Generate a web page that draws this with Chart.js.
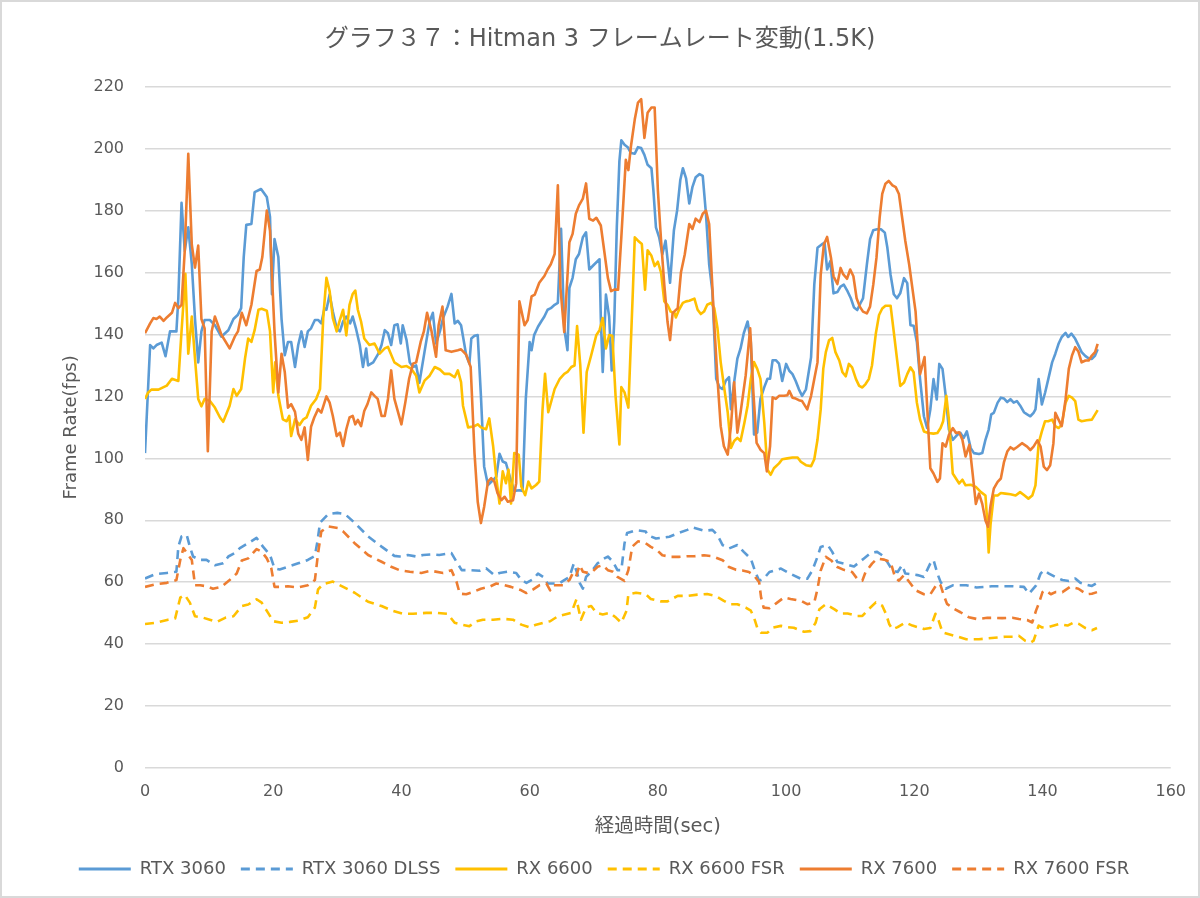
<!DOCTYPE html>
<html><head><meta charset="utf-8">
<script src="https://cdn.jsdelivr.net/npm/chart.js@4.4.1/dist/chart.umd.min.js"></script>
<style>html,body{margin:0;padding:0;background:#fff}canvas{display:block}</style>
</head><body>
<canvas id="c" width="1200" height="898"></canvas>
<script>
const chartTitle = 'グラフ３７：Hitman 3 フレームレート変動(1.5K)';
const xTitle = '経過時間(sec)';
const yTitle = 'Frame Rate(fps)';
const seriesNames = ['RTX 3060','RTX 3060 DLSS','RX 6600','RX 6600 FSR','RX 7600','RX 7600 FSR'];

// [time(sec), fps]
const rtx3060 = [[0,101.7],[0.8,136.6],[1.3,135.5],[1.8,136.6],[2.6,137.4],[3.2,133],[3.9,141],[4.9,141],[5.2,151.8],[5.7,182.5],[6.2,167],[6.75,174.6],[7.3,162.7],[7.8,145],[8.3,131],[8.8,141],[9.3,144.7],[10.1,144.7],[10.9,143],[11.9,139.3],[13,141.4],[13.8,145],[14.5,146.4],[15,148.5],[15.4,165],[15.8,175.4],[16.6,175.7],[17.1,186],[18.1,187],[19,184.4],[19.5,178],[19.8,153],[20.2,170.8],[20.8,165],[21.3,145],[21.8,133.3],[22.3,137.6],[22.8,137.6],[23.4,129.5],[23.9,136.6],[24.4,141],[24.9,136],[25.4,141],[25.9,142],[26.5,144.7],[27,144.7],[27.5,143.6],[28,148.5],[28.3,148],[28.8,152.9],[29.3,147.4],[29.9,142],[30.4,141],[30.9,144.2],[31.4,145.8],[32,143.6],[32.4,145.8],[32.9,142],[33.5,136.6],[34,129.5],[34.5,135.5],[34.8,130],[35.6,131],[36.4,133.8],[36.9,136.6],[37.4,141.4],[37.9,140.4],[38.4,136.6],[38.9,143],[39.4,143.3],[39.9,137.1],[40.2,143],[40.8,138.2],[41.3,131],[41.8,129.5],[42.3,130],[42.8,124.4],[43.6,134.4],[44.4,144.2],[44.9,147],[45.4,137.1],[46,141],[46.5,145.3],[47.2,149],[47.8,153.1],[48.3,143.6],[48.8,144.4],[49.3,143],[49.8,137],[50.1,133.3],[50.6,130.6],[50.9,138.7],[51.4,139.6],[51.9,139.8],[52.4,120.2],[52.9,97.4],[53.5,91.4],[54.3,93],[54.8,94.1],[55.3,101.5],[55.8,99],[56.3,98.5],[56.9,94.1],[57.6,89.5],[58.4,89.7],[58.9,89.5],[59.4,119.2],[60,137.6],[60.3,134.9],[60.7,139.8],[61.3,142.5],[61.8,144.2],[62.3,145.8],[62.8,148],[63.3,148.5],[63.9,149.6],[64.4,150.2],[64.9,174.1],[65.4,142],[65.9,134.9],[66.2,155.1],[66.7,158.3],[67.2,164.3],[67.7,166],[68.3,171.4],[68.8,173],[69.3,161],[70.1,162.7],[70.9,164.3],[71.1,145.3],[71.4,127.9],[71.9,152.9],[72.4,145.8],[72.8,128.4],[73.2,144.2],[73.6,175],[74,196],[74.3,202.7],[74.8,201.3],[75.3,200.5],[75.8,198.6],[76.4,198.4],[76.9,200.5],[77.4,200.2],[77.9,198],[78.4,194.8],[79,193.7],[79.3,186.6],[79.7,174.6],[80.2,171.4],[80.7,165.9],[81.2,170.3],[81.9,156.7],[82.5,173.6],[83,180],[83.5,189.9],[83.9,193.7],[84.4,190.4],[84.9,182.3],[85.4,187.7],[85.9,190.8],[86.5,191.8],[87,191.2],[87.5,179],[88,162.7],[88.5,154],[89.1,125.7],[89.6,123],[90.1,122.4],[90.6,125.1],[91.1,126.2],[91.4,115.9],[91.9,124.6],[92.4,132.2],[92.9,135.5],[93.4,140.4],[94,144.2],[94.5,137.6],[95,107.7],[95.5,108.3],[96,119.2],[96.6,123],[97.1,125.7],[97.5,125.7],[97.9,131.7],[98.4,131.7],[98.9,130.6],[99.4,125],[100,130.5],[100.5,128.3],[101,127.2],[101.5,125],[102,122.3],[102.5,120.2],[103.1,122.3],[103.9,132.7],[104.4,156.1],[104.9,168],[105.7,169.3],[106,169.7],[106.4,161],[106.9,163.7],[107.4,153.3],[108,153.7],[108.5,155.5],[109,156.1],[109.6,153.9],[110.1,151.7],[110.6,148.7],[111.1,147.9],[111.6,150.1],[112,151.7],[112.6,162.6],[113.1,170.8],[113.6,173.7],[114.2,174],[114.8,174],[115.4,172.9],[115.8,168],[116.3,159.3],[116.8,153],[117.3,151.7],[117.8,153.3],[118.4,158.2],[118.9,156.6],[119.4,143],[119.9,142.8],[120.4,137.6],[120.9,125.6],[121.5,113.6],[122,109.8],[122.5,115.8],[123,125.6],[123.5,119],[123.9,130.5],[124.4,128.9],[124.9,120.2],[125.4,109.3],[126,106],[126.7,107.6],[127.2,108.2],[127.7,106.6],[128.2,108.7],[128.8,103.3],[129.3,101.7],[130.1,101.4],[130.6,101.7],[131.1,106],[131.6,109.3],[132,114.2],[132.4,114.7],[133,118],[133.5,119.6],[134,119.3],[134.5,118.2],[135,119.1],[135.5,118],[136,118.5],[136.5,117.1],[137.1,114.9],[137.6,114.2],[138.1,113.6],[138.6,114.7],[138.9,115.8],[139.4,125.6],[139.9,117.4],[140.4,121.2],[140.9,125.6],[141.5,131],[142,133.8],[142.5,137],[143,139.2],[143.6,140.5],[144,139.2],[144.5,140.3],[145.1,138.6],[145.6,136.5],[146.1,134.3],[146.7,133],[147.2,132.3],[147.7,132.1],[148.2,133.2],[148.6,135.2]];

const rtx3060Dlss = [[0,61.2],[1.6,62.6],[3.4,63],[4.9,63.4],[5.2,71.5],[5.7,74.8],[6.5,75.3],[7,71.5],[7.5,68.3],[8.6,67.2],[9.6,67.2],[10.9,65.5],[12.2,66.1],[13,68.3],[14,69.4],[14.8,71],[16.1,72.6],[17.4,74.3],[18.4,71.5],[19.5,68.8],[20.2,64.5],[21,64.1],[22.3,65],[23.9,66.1],[25.4,67.2],[26.5,68.5],[26.9,73.2],[27.3,79.2],[28.6,82],[30,82.4],[31.2,82],[32.7,79.2],[34.8,74.8],[36.9,71.5],[38.9,68.5],[39.7,68.3],[41,68.8],[42.3,68.3],[43.4,68.8],[44.9,69],[45.9,68.8],[47.8,69.4],[48.6,66.6],[49.4,63.9],[50.6,63.9],[52.2,63.7],[53.2,64.5],[54.5,62.3],[55.3,63],[56.6,63.4],[57.9,63],[58.7,60.7],[59.5,59.8],[60.5,60.9],[61.3,62.8],[62.1,61.7],[62.8,59.6],[63.9,59.6],[64.6,59.6],[65.4,60.7],[66.2,61.7],[66.9,66.1],[67.4,63],[67.8,59.8],[68.3,57.9],[68.8,61.7],[69.8,63.9],[70.6,66.1],[71.4,67.4],[72.2,68.3],[73,66.6],[73.7,63.9],[74.3,63.9],[74.8,72.6],[75.2,75.9],[76.6,76.8],[78.1,76.4],[78.4,75.2],[79.7,74.1],[81.8,74.7],[83.1,75.8],[84.6,76.9],[85.4,77.7],[87.2,76.6],[88.5,76.9],[89.3,75.2],[90.1,72],[91.1,70.9],[92.4,72],[93.4,69.8],[94.5,67.6],[95.2,63.3],[95.8,60.5],[96.5,61.1],[97.4,63.3],[99.2,64.4],[100.7,62.7],[102.3,61.1],[103.3,61.1],[104.1,63.8],[104.9,68.2],[105.4,71.4],[106.5,72],[107.2,69.8],[108,66.5],[109,66],[110.6,65.1],[112.1,67.6],[113.2,69.5],[114.2,69.8],[115,68.7],[115.8,66.5],[116.6,63.8],[117.4,63.3],[118.1,65.5],[118.6,62.8],[120.5,62.3],[121.5,61.7],[122.5,66.1],[123,67.2],[123.6,62.8],[124.1,60.1],[124.9,57.9],[126,59],[128.1,59],[129.7,58.3],[131.1,58.5],[132.1,58.7],[133.7,58.7],[135.3,58.7],[137.1,58.5],[137.9,56.3],[139,59],[139.7,62.8],[140.2,63.9],[141,62.8],[142,61.7],[143.1,60.7],[144.1,60.4],[145.1,61.2],[145.9,59.8],[146.7,59.3],[147.7,58.8],[148.5,59.8]];

const rx6600 = [[0,119.2],[0.5,121.3],[1,122.2],[2.1,122.2],[2.9,123],[3.4,123.5],[4.2,125.7],[5.2,125],[5.7,141],[6.3,159.6],[6.75,133.8],[7.3,145.8],[7.8,132.2],[8.3,119.2],[8.8,116.8],[9.3,119.2],[10.1,118.6],[10.9,116.4],[11.7,113.2],[12.2,111.8],[13.2,117],[13.8,122.4],[14.3,120.2],[15,122.4],[15.6,132.2],[16.1,138.7],[16.6,137.6],[17.1,141.4],[17.7,148],[18.2,148.3],[19,147.7],[19.5,141],[20,121.3],[20.3,131],[20.8,120.2],[21.5,112.6],[22.1,112],[22.5,113.7],[22.8,107.2],[23.4,112.6],[24.1,110.8],[24.7,112.6],[25.2,113.2],[25.9,117],[26.7,119.2],[27.3,122.4],[27.8,145.3],[28.3,158.3],[28.8,154],[29.3,145.3],[29.9,141],[30.4,144.7],[30.9,148],[31.4,139.7],[31.9,149.6],[32.4,153.1],[32.8,154.2],[33.2,148],[33.7,144.2],[34.2,138.7],[35,136.6],[35.8,137.1],[36.6,133.8],[37.4,135.5],[37.9,136],[38.9,131],[40,129.5],[40.8,129.8],[41.5,129],[42.3,126.7],[42.8,121.3],[43.6,125.1],[44.4,126.7],[45.2,129.5],[46,128.7],[46.7,127.3],[47.5,127.3],[48.3,126.2],[48.8,128.4],[49.3,124.6],[49.6,117],[50.4,110],[51.4,110.4],[51.9,111],[52.4,110],[53.2,109.4],[53.7,112.9],[54.3,104],[54.8,93.6],[55.3,85.4],[55.8,95.8],[56.3,92],[56.7,96.4],[57.1,85.4],[57.6,101.7],[58.3,101.2],[58.7,90.9],[59.3,88.1],[59.8,92.5],[60.3,90.3],[61,91.4],[61.5,92.5],[62,115.4],[62.4,127.3],[62.9,114.9],[63.4,118.6],[63.9,122.4],[64.7,125.7],[65.4,127.3],[65.9,127.9],[66.5,129.5],[67,130],[67.4,142.7],[67.9,130],[68.4,108.3],[68.9,127.9],[69.6,133.3],[70.4,139.8],[70.9,141.4],[71.4,145.3],[71.9,135.5],[72.4,139.8],[72.9,139.6],[73.4,120.2],[74,104.5],[74.3,123],[74.8,121.3],[75.4,116.4],[76.1,154],[76.4,171.4],[76.9,170.3],[77.5,169.2],[78,154.5],[78.4,167.2],[79,165.4],[79.5,162.1],[80,163.5],[80.5,160],[81,150.7],[81.5,149.6],[82,147.4],[82.6,146.9],[82.8,145.5],[83.3,148],[83.9,150.2],[84.4,150.7],[84.9,150.9],[85.7,151.6],[86.2,148],[86.7,146.6],[87.2,147.4],[87.7,149.6],[88.3,150.2],[88.8,148.5],[89.3,142],[89.8,131.1],[90.3,123.5],[90.9,114.8],[91.4,103.4],[91.9,105.6],[92.4,106.6],[92.9,105.6],[93.5,111.5],[94,117],[94.5,125.7],[95,131.1],[95.5,128.9],[96,125.7],[96.6,111.5],[97.1,96.3],[97.6,94.7],[98.1,96.8],[98.9,98.4],[99.4,99.7],[100.2,100],[101,100.3],[101.8,100.3],[102.3,98.9],[103.1,97.8],[103.9,97.5],[104.4,99.7],[104.9,106],[105.4,115.8],[105.8,128.9],[106.2,134.3],[106.7,138.1],[107.2,138.9],[107.7,134.3],[108.3,131.6],[108.8,127.8],[109.3,126.5],[109.8,130.5],[110.3,129.4],[110.9,125.6],[111.4,123.4],[111.9,122.9],[112.4,124],[112.9,125.6],[113.4,130],[114,140.3],[114.5,146.3],[115,148.4],[115.5,149.3],[116.3,149.3],[116.8,140.8],[117.3,132.1],[117.8,123.4],[118.4,124.5],[118.9,127.2],[119.4,129.4],[119.9,127.8],[120.4,118],[120.9,112.5],[121.5,108.7],[122.2,108.2],[123,108],[123.6,108.2],[124.1,109.8],[124.5,112],[125,120.2],[125.4,112.5],[126,95.1],[126.5,93.5],[127,91.9],[127.5,93.1],[128,91.3],[128.8,91.5],[129.6,90.8],[130.4,89.1],[131.1,88],[131.4,78.8],[131.6,69.6],[131.9,78.8],[132.4,88],[133,88],[133.5,88.8],[134.2,88.6],[135,88.4],[135.8,88],[136.5,89.1],[137.2,88],[137.8,87],[138.4,88],[138.9,91.3],[139.4,104.9],[139.9,108.7],[140.4,112],[140.9,112],[141.5,112.5],[142,110.4],[142.5,109.8],[143,110.9],[143.6,118],[144.1,120.2],[144.6,119.6],[145.1,118.5],[145.6,112.5],[146.1,112],[146.9,112.3],[147.7,112.5],[148.2,114.2],[148.6,115.6]];

const rx6600Fsr = [[0,46.5],[1.6,46.9],[3.6,47.9],[4.7,48.3],[5.5,55],[6.2,55.9],[7,53.4],[7.8,49],[8.8,48.7],[10.1,47.9],[11.2,47.2],[12.5,48.5],[13.8,49],[15.1,52.3],[16.1,52.8],[17.4,54.5],[18.2,53.4],[19.2,50.1],[20,47.4],[21.3,46.9],[22.6,47.2],[23.9,47.6],[25.4,48.7],[26.5,51.8],[27,57.7],[27.8,59.4],[29.3,60.2],[30.6,58.8],[32.7,56.6],[34.8,53.7],[36.9,52.3],[38.7,50.7],[40.2,49.8],[41.8,49.8],[43.9,50.1],[45.4,50.1],[47.2,49.8],[48.3,46.9],[49.4,46.3],[50.6,45.8],[51.7,47.4],[52.7,47.9],[54.3,47.9],[55.8,48.2],[57.4,47.9],[58.7,46.3],[60,45.4],[61,46.3],[62.1,46.9],[63.2,47.4],[64.4,49],[65.5,49.6],[66.5,50.1],[67.3,54.5],[68,47.9],[68.8,51.8],[69.6,52.3],[70.4,50.1],[71.4,49.6],[72.5,50.1],[73.5,48.5],[74.3,46.9],[75.1,50.7],[75.4,56.1],[76.6,56.6],[78.1,56.1],[78.9,54.6],[80.5,53.8],[81.5,53.8],[83.1,55.6],[84.6,55.6],[86.2,56],[87.7,56.2],[89,55.6],[90.3,54],[91.3,52.9],[92.4,52.9],[93.7,51.8],[94.5,50.8],[95,48.6],[95.5,45.3],[96.1,43.7],[97.1,43.7],[97.9,45.3],[99.2,45.9],[100.2,45.5],[101.2,45.3],[102.8,44],[103.8,44.2],[104.6,46.9],[105.2,51.3],[106.2,52.9],[107.5,51.3],[108.5,49.9],[109.6,49.9],[111.1,49.1],[111.9,49.1],[112.9,51.3],[114,53.5],[115,52.4],[115.6,49.7],[116.1,46.4],[116.6,44.8],[117.4,45.5],[118.6,47],[119.7,46],[121.5,44.9],[122.5,45.2],[123.3,49.8],[123.8,47.6],[124.4,43.8],[125.4,43.2],[126.8,42.4],[128.1,41.6],[130.1,41.6],[131.1,41.8],[133.2,42.2],[134.2,42.4],[135.5,42.4],[136.3,42.7],[137.3,41.1],[138.1,40.5],[138.6,41.1],[139.4,46],[139.9,45.4],[141,45.6],[142.6,46.5],[143.9,46],[144.9,47],[145.7,46.5],[146.7,45.2],[147.7,44.5],[148.5,45.2]];

const rx7600 = [[0,140.4],[0.8,143.6],[1.3,145.3],[1.8,145],[2.3,145.8],[2.9,144.4],[3.4,145.5],[4.2,147],[4.7,150.2],[5.2,148.5],[5.7,149.6],[6.2,167],[6.75,198.4],[7.3,169],[7.8,161.6],[8.3,168.7],[8.8,145],[9.3,142],[9.8,102.3],[10.4,141],[10.9,145.8],[11.9,140],[13.2,135.5],[14,139.3],[14.5,141],[15.1,147],[15.8,143],[16.6,149.6],[17.4,160.5],[17.9,161],[18.3,165],[19,180],[19.5,173.5],[20.2,141],[20.8,121.3],[21.3,133.8],[21.8,127.9],[22.3,116.4],[22.8,117.5],[23.4,115],[23.9,108],[24.4,106],[24.9,110],[25.4,99.5],[25.9,110.2],[26.4,113.2],[27,115.9],[27.5,114.8],[28.3,120],[28.8,118],[29.3,113.7],[29.9,107.2],[30.4,108.3],[30.9,104],[31.4,109.4],[31.9,113.2],[32.4,113.7],[32.8,111],[33.2,112.4],[33.7,110.4],[34.2,115.3],[34.7,117.5],[35.3,121.3],[35.8,120.2],[36.3,119.2],[36.9,113.7],[37.4,113.7],[37.9,119.2],[38.4,128.4],[38.9,119.2],[40,111],[40.6,118],[41.2,125.7],[41.8,130.6],[42.3,131],[43,137.6],[43.5,141],[44,147],[44.7,141],[45.4,132.8],[45.8,143],[46.4,149],[46.9,134.9],[47.8,134.4],[48.8,134.9],[49.3,135.2],[50.1,133.5],[50.8,129.5],[51.4,101.7],[51.9,86],[52.4,79.1],[52.9,84.3],[53.5,92.5],[54,93.6],[54.5,92.5],[55,88.7],[55.6,86.5],[56.1,87.6],[56.6,86],[57.4,86.5],[57.9,92],[58.4,150.7],[59.2,143],[59.7,144.7],[60.3,152.3],[60.8,152.9],[61.5,156.7],[62.3,158.9],[62.8,161],[63.3,162.7],[63.9,166],[64.4,188.2],[64.8,155.1],[65.4,140.8],[66.2,169.8],[66.7,172.5],[67.2,179],[67.7,181.7],[68.3,183.9],[68.8,188.8],[69.3,177.4],[69.9,176.8],[70.4,177.7],[71.1,175.2],[71.7,166],[72.2,158.3],[72.7,154],[73.2,154.5],[73.8,154.5],[74.3,171.4],[75,196.4],[75.4,193.1],[75.8,200.8],[76.4,209.5],[76.9,214.9],[77.4,216],[77.9,203.5],[78.4,211.6],[79,213.3],[79.5,213.3],[80,186.6],[80.5,170.3],[81,156.1],[81.5,144.2],[81.9,138.2],[82.3,146.9],[83.1,148.5],[83.6,160],[84.2,165.9],[84.9,175.7],[85.4,174.1],[85.9,177.4],[86.5,176.3],[87,179],[87.5,180],[88,175.7],[88.4,159.4],[88.8,143.1],[89.3,125.7],[89.8,110.4],[90.3,103.9],[90.9,101.2],[91.4,110.4],[91.9,124.6],[92.4,108.3],[92.9,114.8],[93.7,126.8],[94.4,142],[94.9,121.3],[95.4,105],[96,102.8],[96.6,101.7],[97,95.8],[97.5,103.9],[97.9,119.7],[98.4,119.2],[98.9,120.2],[99.7,120.2],[100.2,120.4],[100.5,121.8],[101,119.6],[101.5,119.3],[102,118.8],[102.5,118.5],[103.3,115.8],[103.9,120.2],[104.4,125.6],[104.9,131],[105.4,159.3],[105.9,169.1],[106.4,171.5],[107,164.8],[107.4,158.8],[108,156.3],[108.5,161.5],[108.9,159.5],[109.5,158],[110,161],[110.5,158.8],[111,151.7],[111.5,149],[112,147.4],[112.6,146.8],[113.1,149],[113.6,156.1],[114.1,164.8],[114.6,177.8],[115,185.4],[115.5,188.7],[116,189.6],[116.6,188.2],[117.1,187.6],[117.6,185.4],[118.1,177.8],[118.6,170.2],[119.2,162.6],[119.7,155],[120.2,147.4],[120.5,137.6],[120.9,127.2],[121.6,132.7],[122,116.9],[122.5,96.8],[123,95.1],[123.6,92.4],[124,93.5],[124.4,104.9],[124.9,103.8],[125.4,107.6],[126,109.8],[126.5,108.2],[127,108.4],[127.5,106],[128,100.6],[128.6,104.4],[129.1,95.1],[129.6,85.3],[130.1,88.6],[130.6,85.3],[131.1,79.9],[131.5,77.9],[131.9,84.8],[132.4,90.2],[133,92.4],[133.5,93.5],[134,98.9],[134.5,102.2],[135,103.6],[135.5,102.9],[136,103.6],[136.8,104.9],[137.6,103.8],[138.1,102.7],[138.6,103.8],[139.2,105.8],[139.7,103.8],[140.2,97.3],[140.7,96.2],[141.2,97.8],[141.7,104.9],[142,114.7],[142.5,112.5],[143,110.4],[143.6,119.1],[144.1,128.9],[144.6,133.2],[145.1,135.9],[145.6,134.5],[146.1,131],[146.7,131.6],[147.2,131.6],[147.7,133.2],[148.2,134.3],[148.6,137]];

const rx7600Fsr = [[0,58.5],[1.6,59.3],[3.4,59.8],[4.9,60.7],[5.5,67.2],[6,71],[6.75,68.8],[7.3,67.2],[7.8,59],[8.6,59],[9.6,58.7],[10.6,57.9],[11.9,58.5],[13.2,60.7],[14.3,62.8],[15.1,67],[16.1,67.7],[17.4,70.7],[18.2,69.9],[19,67.7],[19.7,64.5],[20.2,58.5],[21.3,58.5],[22.3,58.7],[23.9,58.3],[25.4,59],[26.5,60.7],[27,69.4],[27.5,76.4],[28.6,78],[30.1,77.5],[30.9,76.4],[32.7,72.6],[34.8,68.8],[36.9,66.6],[38.4,65],[39.7,63.9],[41.3,63.4],[43.1,63],[44.6,63.7],[46.5,63],[47.8,63.9],[48.6,60.1],[49.1,56.3],[50.1,56.1],[51.1,56.8],[52.4,57.9],[53.7,58.5],[54.8,59.6],[56.1,59],[57.1,58.5],[58.7,57.4],[59.5,56.5],[60.5,57.6],[61.5,59],[62.6,59.6],[63.2,57.4],[63.6,59],[64.6,59],[65.2,59],[66.2,60.7],[66.7,62.8],[67.2,61.7],[67.8,65.5],[68.3,63.4],[69.1,63],[69.8,63.4],[70.6,65],[71.4,65.5],[72.2,63.9],[73,63.4],[73.7,61.7],[74.8,60.4],[75.4,63.9],[76,71.5],[76.9,73.2],[78.1,72.6],[78.9,71.4],[79.9,70.3],[80.7,68.7],[82,68.2],[83.4,68.2],[84.6,68.4],[85.7,68.4],[87.2,68.7],[88.5,68.4],[90.1,67.1],[91.1,64.9],[92.2,64],[93.2,63.8],[94.2,63.3],[95,62.2],[95.8,60],[96.1,55.1],[96.5,51.8],[97.4,51.6],[98.4,53.1],[99.7,55.1],[100.7,54.6],[102.3,54],[103.3,52.9],[104.4,53.5],[104.9,57.8],[105.4,63.8],[106.2,68.2],[107,67.1],[108,64.9],[109,64],[110.3,63.3],[111.1,61.1],[111.9,60.5],[112.4,63.3],[113.4,66],[114.2,67.6],[115.3,67.3],[116.3,66.5],[117,61.6],[117.6,60.5],[118.4,62.3],[119.4,59.6],[120.2,57.4],[121.5,56.1],[122.5,56.1],[123.6,59.6],[124.1,59],[124.6,55.8],[125.1,53],[126.2,51.4],[127.2,50.3],[128.5,48.7],[129.8,48.1],[131.4,48.5],[132.4,48.5],[133.7,48.4],[135.3,48.5],[136.3,48.1],[137.6,47.8],[138.4,47],[139,50.9],[139.4,53],[140,56.8],[140.5,57.4],[141.3,56.1],[142,56.8],[143.1,56.8],[144.3,58.5],[145.6,57.9],[146.9,56.1],[147.7,56.3],[148.5,56.8]];

const xTicksMax = 160, xStep = 20, yTicksMax = 220, yStep = 20;

const BLUE = '#5B9BD5', ORANGE = '#ED7D31', GOLD = '#FFC000';
const TEXT = '#595959', GRID = '#D9D9D9';
const FONT = "'DejaVu Sans', 'Noto Sans CJK JP', sans-serif";
const toXY = arr => arr.map(([x, y]) => ({x, y}));

function ds(label, data, color, dashed, order) {
  return {
    label, data: toXY(data), borderColor: color, backgroundColor: color,
    borderWidth: 2.6, borderDash: dashed ? [9, 6] : [], pointRadius: 0, pointHoverRadius: 0,
    pointStyle: 'line', tension: 0, fill: false, order, borderCapStyle: 'butt', borderJoinStyle: 'round'
  };
}

const bgPlugin = {
  id: 'bg',
  afterLayout(c) {
    // centre the title and legend on the full canvas width
    if (c.titleBlock) { c.titleBlock.left += 14; c.titleBlock.right += 14; }
    if (c.legend) { c.legend.left += 18; c.legend.right += 18; }
  },
  beforeDraw(c) { const x = c.ctx; x.save(); x.fillStyle = '#fff'; x.fillRect(0, 0, c.width, c.height); x.restore(); },
  afterDraw(c) { const x = c.ctx; x.save(); x.strokeStyle = '#D9D9D9'; x.lineWidth = 2; x.strokeRect(1, 1, c.width - 2, c.height - 2); x.restore(); }
};

new Chart(document.getElementById('c'), {
  type: 'line',
  data: {
    datasets: [
      ds(seriesNames[0], rtx3060, BLUE, false, 5),
      ds(seriesNames[1], rtx3060Dlss, BLUE, true, 4),
      ds(seriesNames[2], rx6600, GOLD, false, 3),
      ds(seriesNames[3], rx6600Fsr, GOLD, true, 2),
      ds(seriesNames[4], rx7600, ORANGE, false, 1),
      ds(seriesNames[5], rx7600Fsr, ORANGE, true, 0)
    ]
  },
  options: {
    responsive: false, animation: false, devicePixelRatio: 1,
    layout: { padding: { left: 0, right: 28, top: 0, bottom: 10 } },
    plugins: {
      tooltip: { enabled: false },
      title: { display: true, text: chartTitle, color: TEXT, font: { family: FONT, size: 24, weight: 'normal' }, padding: { top: 25, bottom: 33 } },
      legend: {
        position: 'bottom',
        labels: {
          usePointStyle: true, pointStyle: 'line', pointStyleWidth: 52, padding: 15,
          color: TEXT, font: { family: FONT, size: 18 },
          sort: (a, b) => a.datasetIndex - b.datasetIndex,
          generateLabels: (chart) => Chart.defaults.plugins.legend.labels.generateLabels(chart).map(l => {
            const d = chart.data.datasets[l.datasetIndex];
            return Object.assign(l, { lineDash: d.borderDash, lineWidth: 3, strokeStyle: d.borderColor, fillStyle: d.borderColor, pointStyle: 'line' });
          })
        }
      }
    },
    scales: {
      x: {
        type: 'linear', min: 0, max: xTicksMax,
        ticks: { stepSize: xStep, color: TEXT, font: { family: FONT, size: 16 }, padding: 14, maxRotation: 0 },
        grid: { display: false, drawTicks: false },
        border: { display: false },
        title: { display: true, text: xTitle, color: TEXT, font: { family: FONT, size: 19.5 }, padding: { top: 0, bottom: 6 } },
        afterFit(s) { s.height = 77; }
      },
      y: {
        min: 0, max: yTicksMax,
        ticks: { stepSize: yStep, color: TEXT, font: { family: FONT, size: 16 }, padding: 21 },
        grid: { color: GRID, lineWidth: 1.5, drawTicks: false },
        border: { display: false },
        title: { display: true, text: yTitle, color: TEXT, font: { family: FONT, size: 18 }, padding: { top: 61, bottom: 0 } },
        afterFit(s) { s.width = 145; }
      }
    }
  },
  plugins: [bgPlugin]
});
</script>
</body></html>
